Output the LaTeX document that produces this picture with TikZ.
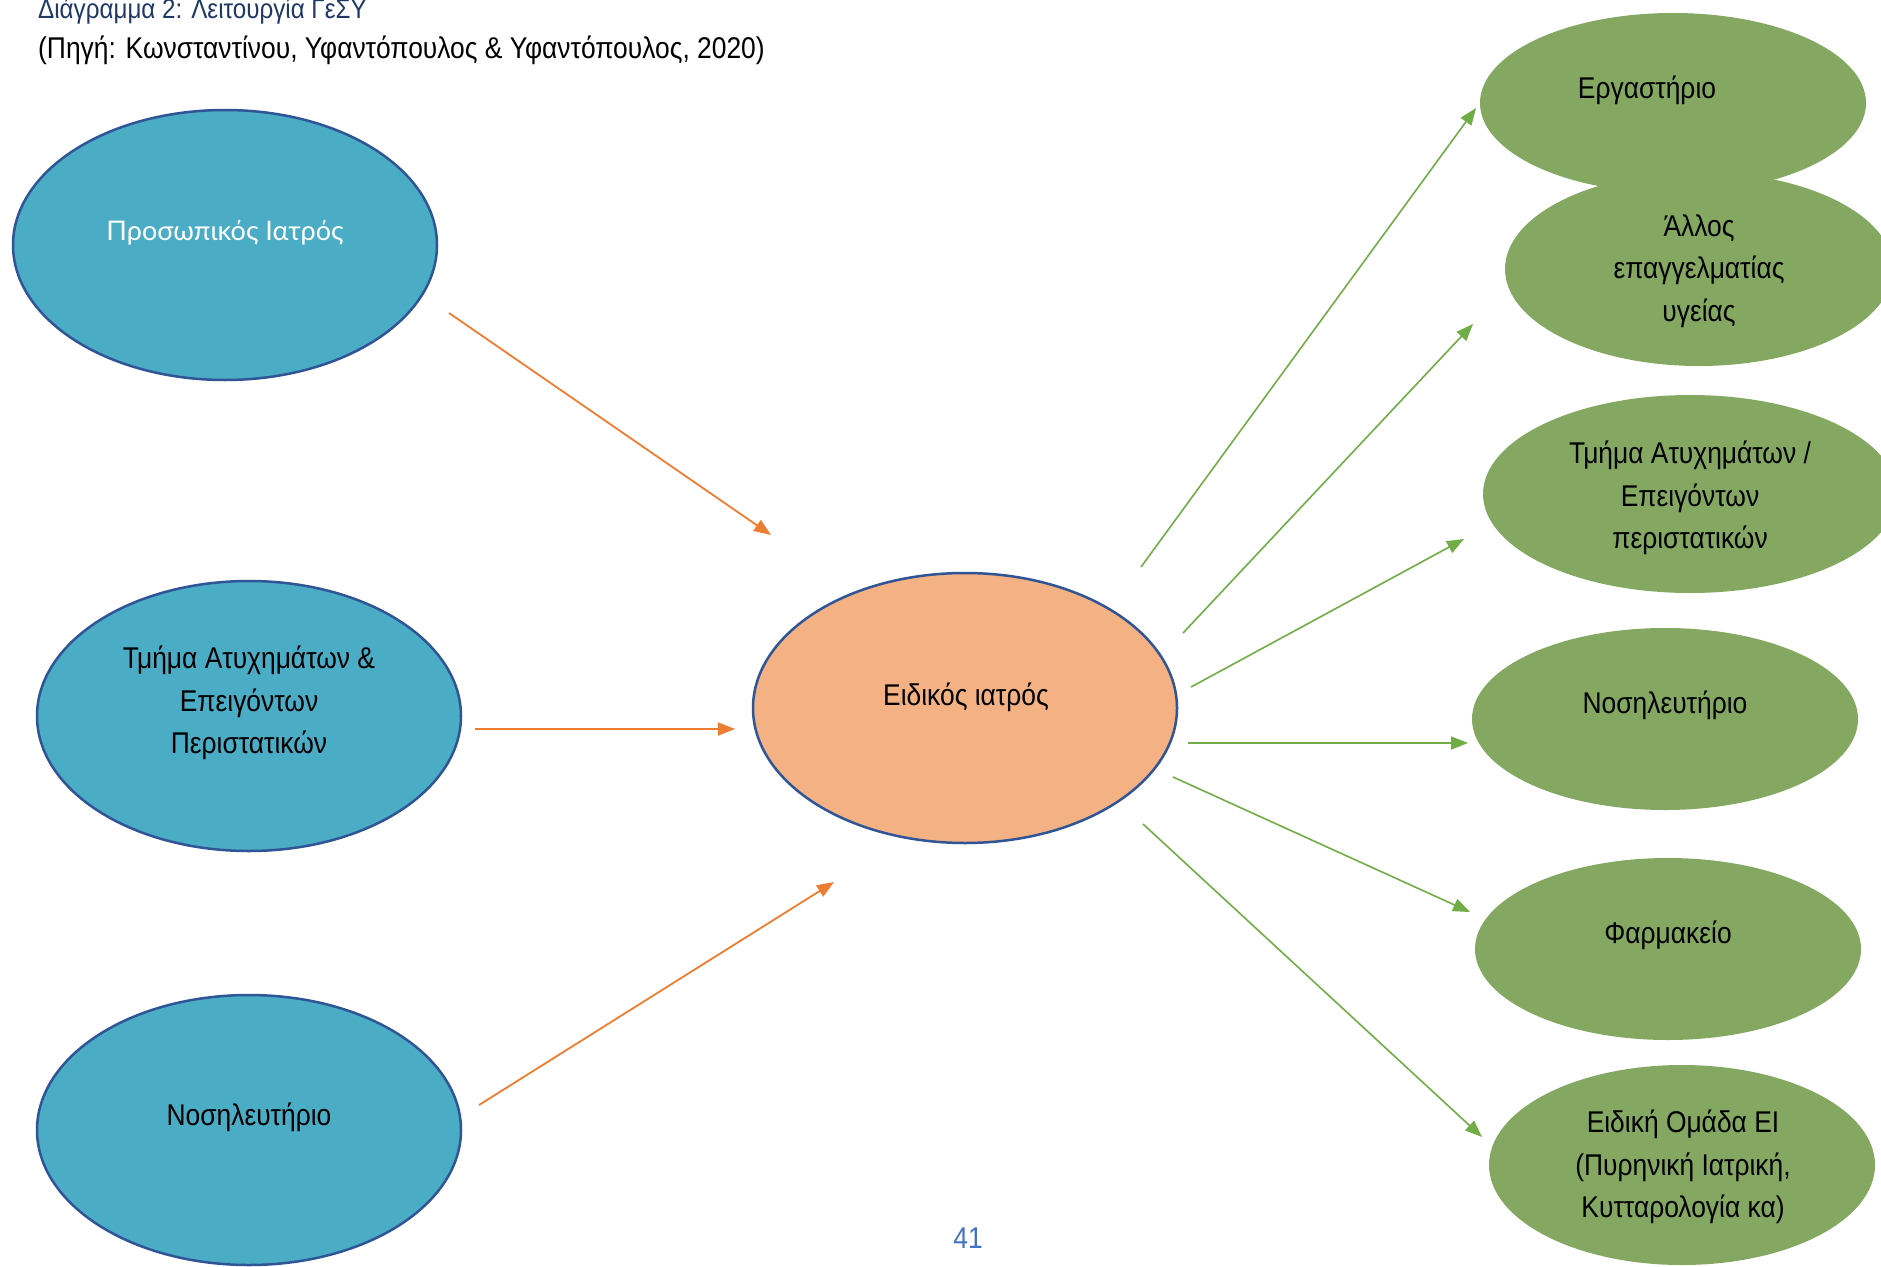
\documentclass[tikz,border=0pt]{standalone}
\usepackage{fontspec}
\setmainfont[FakeStretch=0.88]{Liberation Sans}
\newfontfamily\lightfont{Lato}
\usetikzlibrary{shapes.geometric,arrows.meta}
\definecolor{tealfill}{HTML}{4BACC6}
\definecolor{navyline}{HTML}{2F5597}
\definecolor{peach}{HTML}{F4B183}
\definecolor{leaf}{HTML}{84A862}
\definecolor{orarrow}{HTML}{ED7D31}
\definecolor{grarrow}{HTML}{70AD47}
\definecolor{titlenavy}{HTML}{1F3864}
\definecolor{pagenum}{HTML}{4472C4}
\tikzset{
  leftell/.style={ellipse, draw=navyline, line width=2.5pt, fill=tealfill, minimum width=424pt, minimum height=270pt, inner sep=0pt},
  midell/.style={ellipse, draw=navyline, line width=2.5pt, fill=peach, minimum width=424pt, minimum height=270pt, inner sep=0pt},
  rightell/.style={ellipse, fill=leaf, inner sep=0pt},
  lbl/.style={align=center, font=\fontsize{30}{42.5}\selectfont, text=black, inner sep=0pt},
  orarr/.style={draw=orarrow, line width=1.8pt, -{Triangle[length=17pt,width=13pt]}},
  grarr/.style={draw=grarrow, line width=1.6pt, -{Triangle[length=17pt,width=13pt]}},
}
\begin{document}
\begin{tikzpicture}[x=1pt,y=-1pt]
\clip (0,0) rectangle (1881,1266);
\fill[white] (0,0) rectangle (1881,1266);

% title
\node[anchor=base west, inner sep=0pt, text=titlenavy, font=\fontsize{27.5}{30}\selectfont] (title1) at (38,18) {Διάγραμμα 2: Λειτουργία ΓεΣΥ};
\node[anchor=base west, inner sep=0pt, text=black, font=\fontsize{30}{32}\selectfont] (title2) at (38,58) {(Πηγή: Κωνσταντίνου, Υφαντόπουλος \& Υφαντόπουλος, 2020)};

% left ellipses
\node[leftell] (pers) at (225,245) {};
\node[lbl, text=white, font=\lightfont\fontsize{27}{40}\selectfont] (perst) at (225,233) {Προσωπικός Ιατρός};
\node[leftell] (acc) at (249,716) {};
\node[lbl] (acct) at (249,703) {Τμήμα Ατυχημάτων \&\\Επειγόντων\\Περιστατικών};
\node[leftell] (hosp) at (249,1130) {};
\node[lbl] (hospt) at (249,1117) {Νοσηλευτήριο};

% centre
\node[midell] (spec) at (965,708) {};
\node[lbl] (spect) at (966,697) {Ειδικός ιατρός};

% right ellipses
\node[rightell, minimum width=386pt, minimum height=180pt] (lab) at (1673,103) {};
\node[lbl] (labt) at (1647,90) {Εργαστήριο};
\node[rightell, minimum width=388pt, minimum height=194pt] (oth) at (1699,269) {};
\node[lbl] (otht) at (1699,271) {Άλλος\\επαγγελματίας\\υγείας};
\node[rightell, minimum width=414pt, minimum height=198pt] (acc2) at (1690,494) {};
\node[lbl] (acc2t) at (1690,498) {Τμήμα Ατυχημάτων /\\Επειγόντων\\περιστατικών};
\node[rightell, minimum width=386pt, minimum height=182pt] (hosp2) at (1665,719) {};
\node[lbl] (hosp2t) at (1665,705) {Νοσηλευτήριο};
\node[rightell, minimum width=386pt, minimum height=182pt] (pharm) at (1668,949) {};
\node[lbl] (pharmt) at (1668,935) {Φαρμακείο};
\node[rightell, minimum width=386pt, minimum height=200pt] (team) at (1682,1165) {};
\node[lbl] (teamt) at (1683,1167) {Ειδική Ομάδα ΕΙ\\(Πυρηνική Ιατρική,\\Κυτταρολογία κα)};

% arrow end points
\coordinate (a1s) at (449,313);  \coordinate (a1e) at (771,535);
\coordinate (a2s) at (475,729);  \coordinate (a2e) at (735,729);
\coordinate (a3s) at (479,1105); \coordinate (a3e) at (834,882);
\coordinate (g1s) at (1141,567); \coordinate (g1e) at (1476,108);
\coordinate (g2s) at (1183,633); \coordinate (g2e) at (1473,324);
\coordinate (g3s) at (1191,687); \coordinate (g3e) at (1464,539);
\coordinate (g4s) at (1188,743); \coordinate (g4e) at (1468,743);
\coordinate (g5s) at (1173,777); \coordinate (g5e) at (1470,912);
\coordinate (g6s) at (1143,824); \coordinate (g6e) at (1482,1137);

\draw[orarr] (a1s) -- (a1e);
\draw[orarr] (a2s) -- (a2e);
\draw[orarr] (a3s) -- (a3e);
\draw[grarr] (g1s) -- (g1e);
\draw[grarr] (g2s) -- (g2e);
\draw[grarr] (g3s) -- (g3e);
\draw[grarr] (g4s) -- (g4e);
\draw[grarr] (g5s) -- (g5e);
\draw[grarr] (g6s) -- (g6e);

% page number
\node[inner sep=0pt, text=pagenum, font=\fontsize{30}{32}\selectfont] (page) at (968,1238) {41};
\end{tikzpicture}
\end{document}
